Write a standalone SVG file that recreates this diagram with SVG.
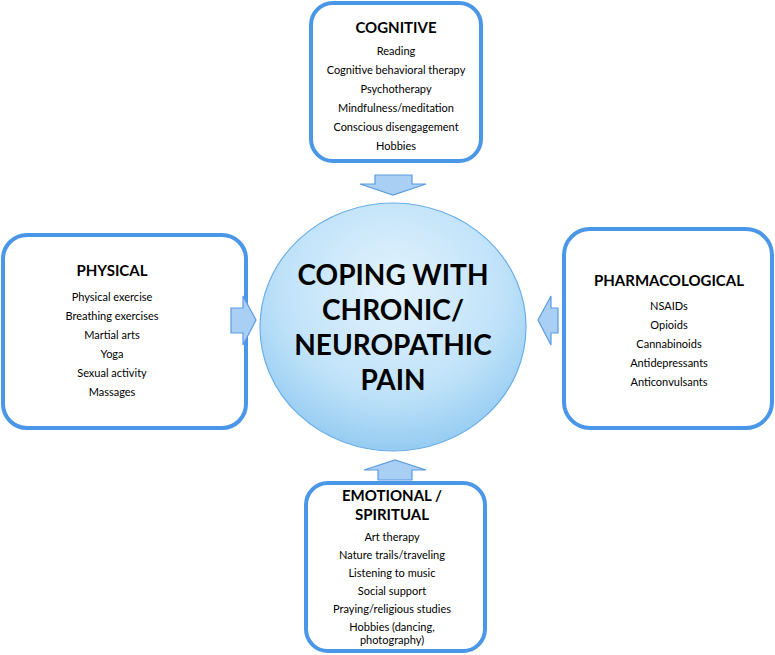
<svg xmlns="http://www.w3.org/2000/svg" width="775" height="655" viewBox="0 0 775 655">
<style>
.box{fill:#fff;stroke:#4a97e8;stroke-width:4}
.arr{fill:#a9cff5;stroke:#5a9be0;stroke-width:1.2}
text{font-family:Lato,"Open Sans",sans-serif;text-anchor:middle;fill:#000}
.h{font-weight:bold;font-size:15px}
.i{font-size:11px}
.c{font-weight:bold;font-size:28px}
</style>
<defs>
<radialGradient id="g" cx="0.5" cy="0.35" r="0.7">
<stop offset="0" stop-color="#e4f3fd"/><stop offset="0.6" stop-color="#bfe2f9"/><stop offset="1" stop-color="#8cc7f0"/>
</radialGradient>
</defs>
<g id="center">
<ellipse cx="393" cy="327" rx="133" ry="124" fill="url(#g)" stroke="#6aaee8" stroke-width="1.2"/>
<text class="c" x="393" y="285">COPING WITH</text>
<text class="c" x="393" y="320">CHRONIC/</text>
<text class="c" x="393" y="355">NEUROPATHIC</text>
<text class="c" x="393" y="390">PAIN</text>
</g>
<g id="cognitive">
<rect class="box" x="311" y="3" width="170" height="158" rx="22"/>
<text class="h" x="396" y="33">COGNITIVE</text>
<text class="i" x="396" y="55">Reading</text>
<text class="i" x="396" y="74">Cognitive behavioral therapy</text>
<text class="i" x="396" y="93">Psychotherapy</text>
<text class="i" x="396" y="112">Mindfulness/meditation</text>
<text class="i" x="396" y="131">Conscious disengagement</text>
<text class="i" x="396" y="150">Hobbies</text>
</g>
<g id="physical">
<rect class="box" x="3" y="235" width="243" height="193" rx="24"/>
<text class="h" x="112" y="276">PHYSICAL</text>
<text class="i" x="112" y="301">Physical exercise</text>
<text class="i" x="112" y="320">Breathing exercises</text>
<text class="i" x="112" y="339">Martial arts</text>
<text class="i" x="112" y="358">Yoga</text>
<text class="i" x="112" y="377">Sexual activity</text>
<text class="i" x="112" y="396">Massages</text>
</g>
<g id="pharmacological">
<rect class="box" x="564" y="229" width="208" height="199" rx="26"/>
<text class="h" x="669" y="286">PHARMACOLOGICAL</text>
<text class="i" x="669" y="310">NSAIDs</text>
<text class="i" x="669" y="329">Opioids</text>
<text class="i" x="669" y="348">Cannabinoids</text>
<text class="i" x="669" y="367">Antidepressants</text>
<text class="i" x="669" y="386">Anticonvulsants</text>
</g>
<g id="emotional">
<rect class="box" x="306" y="483" width="179" height="168" rx="22"/>
<text class="h" x="392" y="501">EMOTIONAL /</text>
<text class="h" x="392" y="520">SPIRITUAL</text>
<text class="i" x="392" y="541">Art therapy</text>
<text class="i" x="392" y="559">Nature trails/traveling</text>
<text class="i" x="392" y="577">Listening to music</text>
<text class="i" x="392" y="595">Social support</text>
<text class="i" x="392" y="613">Praying/religious studies</text>
<text class="i" x="392" y="631">Hobbies (dancing,</text>
<text class="i" x="392" y="644">photography)</text>
</g>
<g id="connectors">
<path class="arr" d="M375,175 H412 V184 H426 L393,195 L360,184 H375 Z"/>
<path class="arr" d="M231,308 H243 V296 L256,320 L243,345 V333 H231 Z"/>
<path class="arr" d="M558,308 H551 V296 L538,320 L551,345 V333 H558 Z"/>
<path class="arr" d="M378,480 H412 V470 H426 L395,460 L364,470 H378 Z"/>
</g>
</svg>
